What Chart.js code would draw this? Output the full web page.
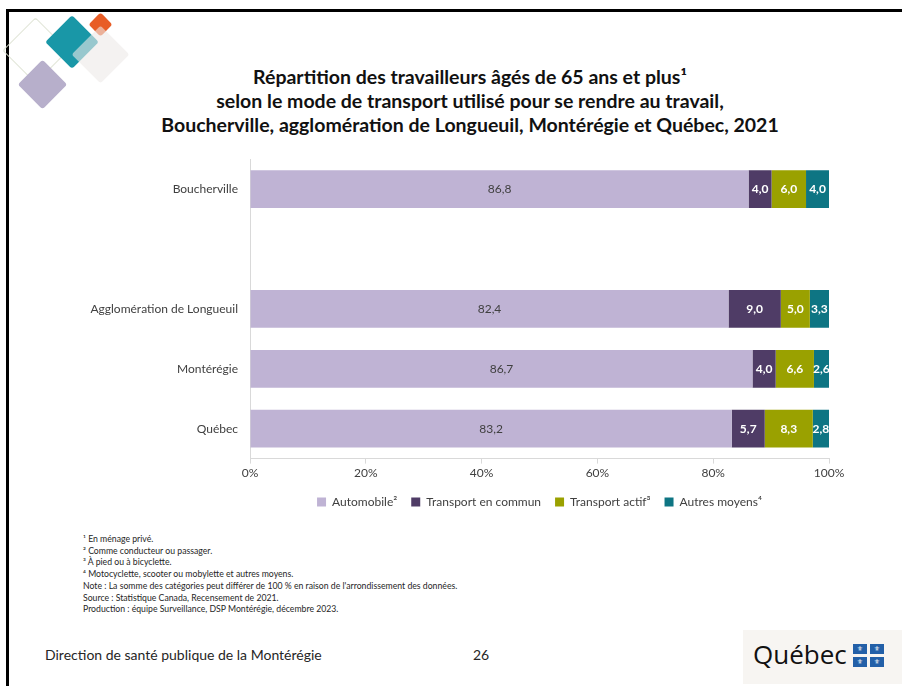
<!DOCTYPE html>
<html lang="fr">
<head>
<meta charset="utf-8">
<title>Répartition des travailleurs âgés de 65 ans et plus</title>
<script src="https://cdn.jsdelivr.net/npm/chart.js@4.4.1/dist/chart.umd.min.js"></script>
<style>
  html, body { margin: 0; padding: 0; background: #fff; }
  body { width: 902px; height: 686px; position: relative; overflow: hidden; font-family: Lato, "Open Sans", sans-serif; color: #262626; }
  .frame-top { position: absolute; left: 6px; top: 9px; width: 896px; height: 3px; background: #000; }
  .frame-left { position: absolute; left: 6px; top: 9px; width: 3px; height: 677px; background: #000; }
  .dia { position: absolute; transform: rotate(45deg); border-radius: 3px; box-sizing: border-box; }
  .title { position: absolute; left: 70px; top: 65px; width: 800px; text-align: center; font-weight: 700; font-size: 19.5px; line-height: 24px; color: #111; }
  .chart-box { position: absolute; left: 40px; top: 140px; width: 860px; height: 378px; }
  .notes { position: absolute; left: 83px; top: 533px; font-size: 8.7px; line-height: 11.7px; color: #262626; }
  .footer { position: absolute; top: 646px; font-size: 14px; color: #262626; }
  .qc-box { position: absolute; left: 743px; top: 630px; width: 159px; height: 54px; background: #f7f5f2; }
  .qc-word { position: absolute; left: 753px; top: 636px; font-family: "Open Sans", sans-serif; font-size: 26px; color: #111; }
  .flag { position: absolute; width: 14px; height: 10px; background: #2360a8; color: #fff; font-family: "DejaVu Sans", sans-serif; font-size: 7px; line-height: 10px; text-align: center; }
</style>
</head>
<body>
<div class="frame-top"></div>
<div class="frame-left"></div>

<!-- logo losanges -->
<div class="dia" style="left:12px;top:27px;width:47px;height:47px;border:1.5px solid #dde2d2;"></div>
<div class="dia" style="left:25px;top:67px;width:35px;height:35px;background:#b7afcb;"></div>
<div class="dia" style="left:53px;top:23px;width:38px;height:38px;background:#1997a7;"></div>
<div class="dia" style="left:92px;top:16px;width:17px;height:17px;background:#e85d26;"></div>
<div class="dia" style="left:80px;top:34px;width:41px;height:41px;background:rgba(236,234,232,0.6);"></div>

<div class="title">
  Répartition des travailleurs âgés de 65 ans et plus¹<br>
  selon le mode de transport utilisé pour se rendre au travail,<br>
  Boucherville, agglomération de Longueuil, Montérégie et Québec, 2021
</div>

<div class="chart-box"><canvas id="chart"></canvas></div>

<div class="notes">
  ¹ En ménage privé.<br>
  ² Comme conducteur ou passager.<br>
  ³ À pied ou à bicyclette.<br>
  ⁴ Motocyclette, scooter ou mobylette et autres moyens.<br>
  Note : La somme des catégories peut différer de 100 % en raison de l'arrondissement des données.<br>
  Source : Statistique Canada, Recensement de 2021.<br>
  Production : équipe Surveillance, DSP Montérégie, décembre 2023.
</div>

<div class="footer" style="left:45px;">Direction de santé publique de la Montérégie</div>
<div class="footer" style="left:473px;">26</div>

<div class="qc-box"></div>
<div class="qc-word">Québec</div>
<div class="flag" style="left:853px;top:644px;">⚜</div>
<div class="flag" style="left:870px;top:644px;">⚜</div>
<div class="flag" style="left:853px;top:657px;">⚜</div>
<div class="flag" style="left:870px;top:657px;">⚜</div>

<script>
// ===== DATA =====
const regions = ['Boucherville', '', 'Agglomération de Longueuil', 'Montérégie', 'Québec'];
const automobile = [86.8, null, 82.4, 86.7, 83.2];
const transportCommun = [4.0, null, 9.0, 4.0, 5.7];
const transportActif = [6.0, null, 5.0, 6.6, 8.3];
const autresMoyens = [4.0, null, 3.3, 2.6, 2.8];
const seriesNames = ['Automobile²', 'Transport en commun', 'Transport actif³', 'Autres moyens⁴'];
const xTicks = [0, 20, 40, 60, 80, 100];

const COLORS = ['#bfb3d4', '#4f3c66', '#9aa100', '#0e7583'];

// 100 % stacked, like the original: each bar is scaled to its own total
const series = [automobile, transportCommun, transportActif, autresMoyens];
const totals = regions.map((_, i) => series.reduce((s, arr) => s + (arr[i] || 0), 0));
const share = arr => arr.map((v, i) => v == null ? null : v / totals[i] * 100);

const fmt = v => v.toFixed(1).replace('.', ',');

// values written in the middle of each segment
const barLabels = {
  id: 'barLabels',
  afterDatasetsDraw(chart) {
    const ctx = chart.ctx;
    chart.data.datasets.forEach((ds, di) => {
      chart.getDatasetMeta(di).data.forEach((bar, i) => {
        const v = ds.values[i];
        if (v == null) return;
        const p = bar.getCenterPoint();
        ctx.save();
        ctx.font = di === 0 ? '12px Lato' : 'bold 12px Lato';
        ctx.fillStyle = di === 0 ? '#404040' : '#ffffff';
        ctx.textAlign = 'center';
        ctx.textBaseline = 'middle';
        ctx.fillText(fmt(v), p.x, p.y);
        ctx.restore();
      });
    });
  }
};

Chart.defaults.font.family = 'Lato';
Chart.defaults.color = '#404040';

new Chart(document.getElementById('chart'), {
  type: 'bar',
  data: {
    labels: regions,
    datasets: series.map((arr, k) => ({
      label: seriesNames[k],
      data: share(arr),
      values: arr,
      backgroundColor: COLORS[k],
      borderWidth: 0,
      barPercentage: 0.63,
      categoryPercentage: 1,
    })),
  },
  options: {
    indexAxis: 'y',
    responsive: true,
    maintainAspectRatio: false,
    animation: false,
    layout: { padding: { top: 8, right: 71, left: 0, bottom: 0 } },
    plugins: {
      tooltip: { enabled: false },
      legend: {
        position: 'bottom',
        fullSize: false,
        labels: { boxWidth: 9, boxHeight: 9, padding: 14, font: { size: 12 }, color: '#404040' },
      },
    },
    scales: {
      x: {
        stacked: true,
        min: 0,
        max: 100,
        afterBuildTicks: s => { s.ticks = xTicks.map(v => ({ value: v })); },
        ticks: { callback: v => v + '%', font: { size: 12 }, color: '#404040', padding: 2, maxRotation: 0 },
        grid: { drawOnChartArea: false, drawTicks: true, tickLength: 5, color: '#d9d9d9' },
        border: { color: '#d9d9d9' },
      },
      y: {
        stacked: true,
        afterFit: s => { s.width = 210; },
        ticks: { font: { size: 12 }, color: '#404040', padding: 12 },
        grid: { drawOnChartArea: false, drawTicks: false },
        border: { color: '#d9d9d9' },
      },
    },
  },
  plugins: [barLabels],
});
</script>
</body>
</html>
